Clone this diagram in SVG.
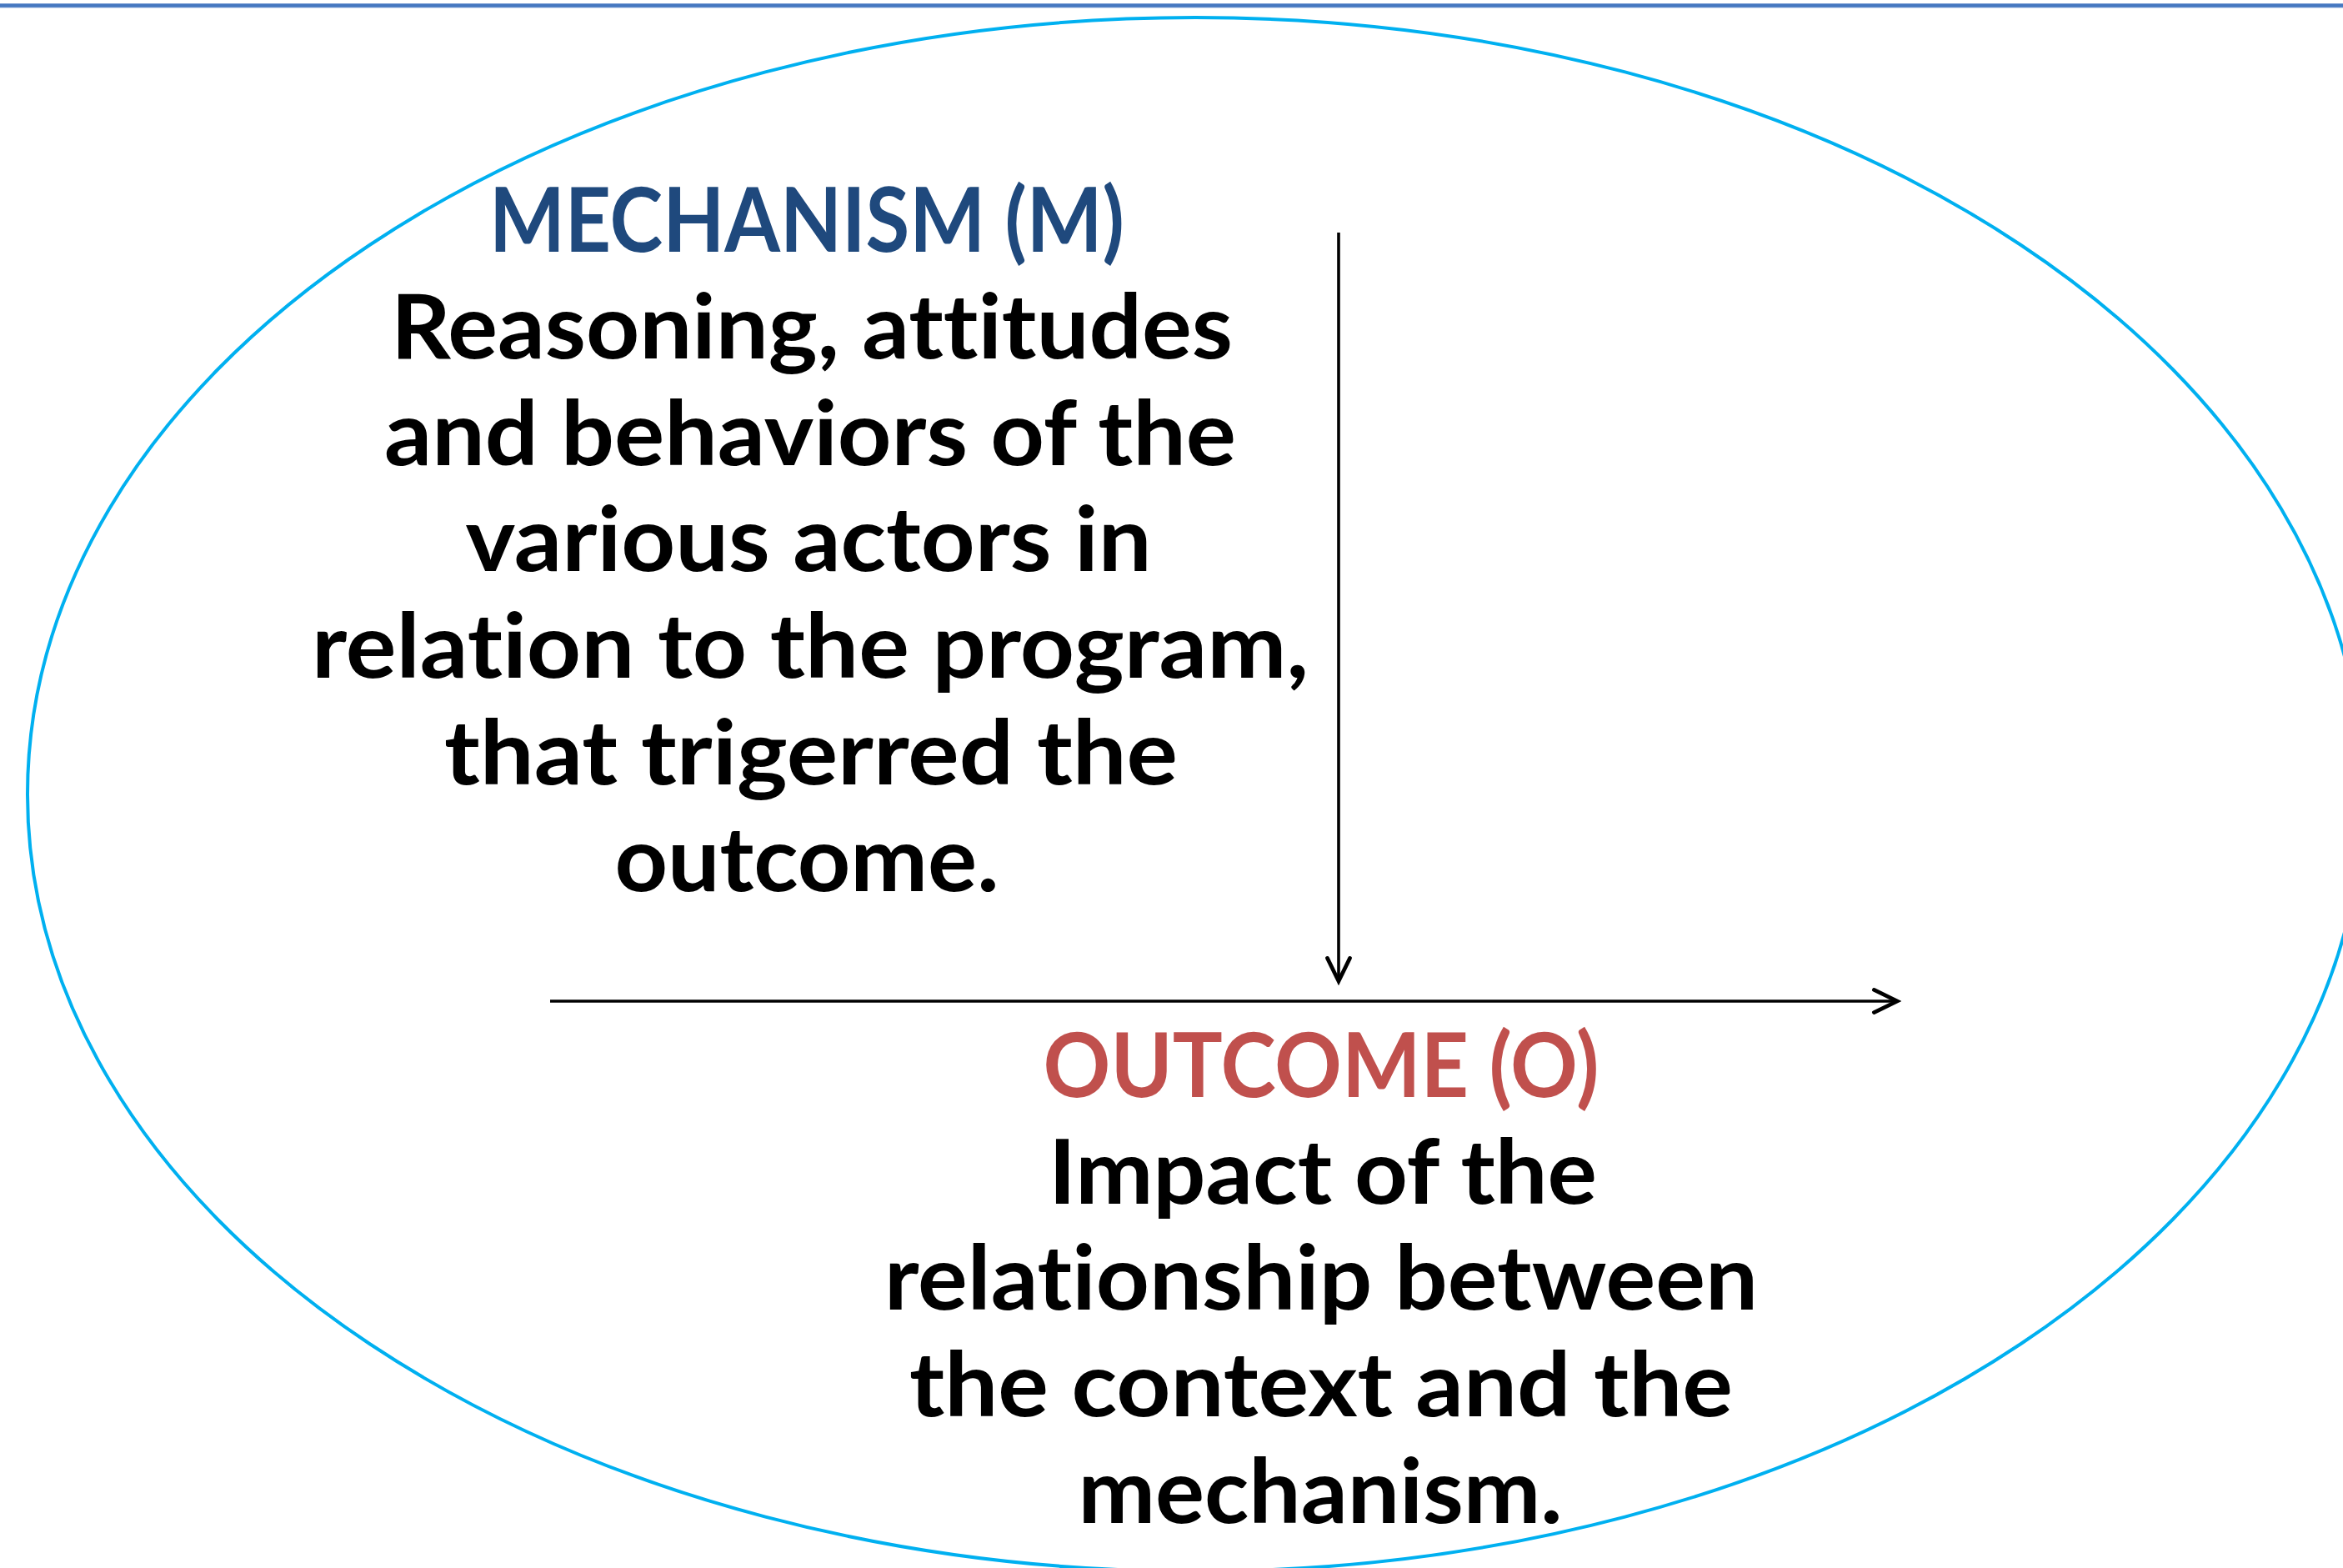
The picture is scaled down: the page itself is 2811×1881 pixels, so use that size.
<svg xmlns="http://www.w3.org/2000/svg" width="2811" height="1881" viewBox="0 0 2811 1881">
  <style>
    text { font-family: Lato, "Open Sans", "Liberation Sans", sans-serif; font-weight: 700; font-size: 107px; text-anchor: middle; font-variant-ligatures: none; font-feature-settings: "liga" 0, "clig" 0; }
    .body { fill: #000000; }
    .mech-title { fill: #1f497d; }
    .out-title { fill: #c0504d; }
    .conn { stroke: #000000; stroke-width: 3.6; fill: none; }
  </style>
  <defs>
    <marker id="chevron" markerUnits="userSpaceOnUse" markerWidth="40" markerHeight="40" viewBox="-30 -15 34 30" refX="0" refY="0" orient="auto">
      <path d="M -23.5 -11.5 L 0 0 L -23.5 11.5" fill="none" stroke="#000000" stroke-width="4" stroke-linecap="round" stroke-linejoin="miter"/>
    </marker>
  </defs>

  <rect width="2811" height="1881" fill="#ffffff"/>

  <!-- header rule -->
  <rect x="0" y="4" width="2811" height="5.4" fill="#86a6d6"/>
  <rect x="0" y="4.8" width="2811" height="3.8" fill="#4577c0"/>

  <!-- enclosing ellipse -->
  <g id="frame">
    <ellipse cx="1434" cy="953" rx="1401" ry="932" fill="none" stroke="#00b0f0" stroke-width="4"/>
  </g>

  <g id="connectors">
    <line class="conn" x1="1606" y1="279" x2="1606" y2="1177" marker-end="url(#chevron)"/>
    <line class="conn" x1="660" y1="1201" x2="2276" y2="1201" marker-end="url(#chevron)"/>
  </g>

  <g id="mechanism">
    <text class="mech-title" x="968" y="302" textLength="762" lengthAdjust="spacingAndGlyphs">MECHANISM (M)</text>
    <text class="body" x="974" y="430" textLength="1010" lengthAdjust="spacingAndGlyphs">Reasoning,  attitudes</text>
    <text class="body" x="972" y="558" textLength="1022" lengthAdjust="spacingAndGlyphs">and behaviors of the</text>
    <text class="body" x="970" y="685" textLength="823" lengthAdjust="spacingAndGlyphs">various actors in</text>
    <text class="body" x="972" y="813" textLength="1196" lengthAdjust="spacingAndGlyphs">relation to the program,</text>
    <text class="body" x="973" y="941" textLength="880" lengthAdjust="spacingAndGlyphs">that trigerred the</text>
    <text class="body" x="968" y="1069" textLength="461" lengthAdjust="spacingAndGlyphs">outcome.</text>
  </g>

  <g id="outcome">
    <text class="out-title" x="1585" y="1316" textLength="667" lengthAdjust="spacingAndGlyphs">OUTCOME (O)</text>
    <text class="body" x="1587" y="1444" textLength="658" lengthAdjust="spacingAndGlyphs">Impact of the</text>
    <text class="body" x="1585" y="1571" textLength="1048" lengthAdjust="spacingAndGlyphs">relationship between</text>
    <text class="body" x="1585" y="1699" textLength="988" lengthAdjust="spacingAndGlyphs">the context and the</text>
    <text class="body" x="1584" y="1827" textLength="581" lengthAdjust="spacingAndGlyphs">mechanism.</text>
  </g>
</svg>
